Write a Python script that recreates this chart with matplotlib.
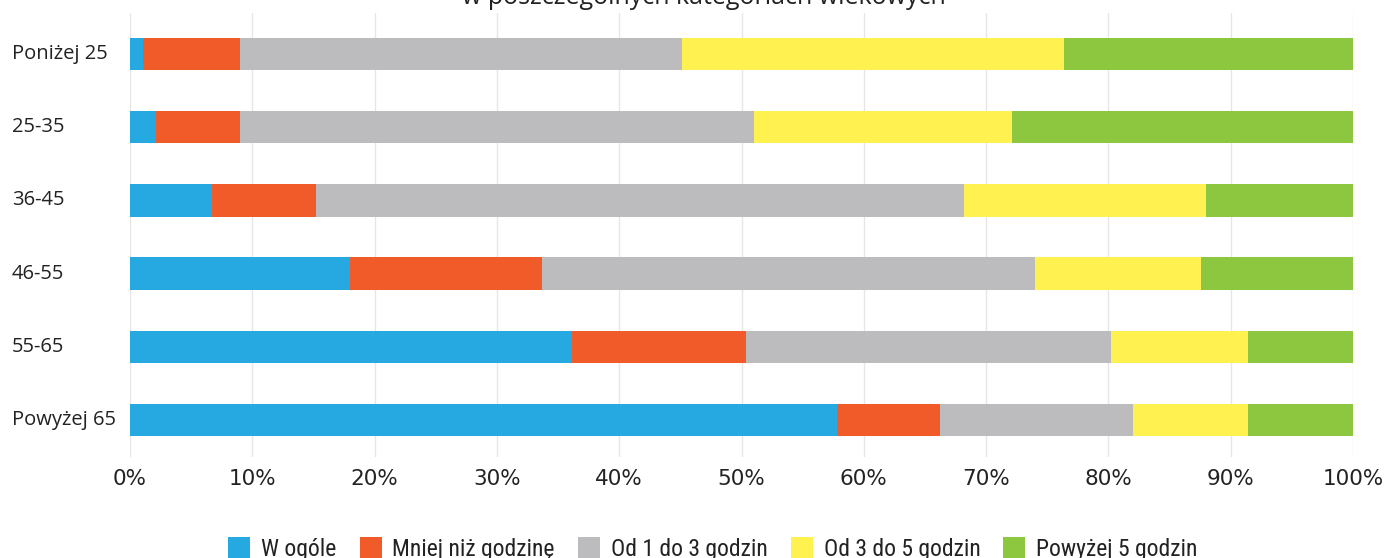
import matplotlib
matplotlib.use("Agg")
import matplotlib.pyplot as plt
import matplotlib.transforms as mtransforms
from matplotlib import font_manager
import numpy as np

categories = ["Poniżej 25", "25-35", "36-45", "46-55", "55-65", "Powyżej 65"]
series_names = ["W ogóle", "Mniej niż godzinę", "Od 1 do 3 godzin", "Od 3 do 5 godzin", "Powyżej 5 godzin"]
w_ogole = [1.1, 2.1, 6.7, 18.0, 36.1, 57.8]
mniej_niz_godzine = [7.9, 6.9, 8.5, 15.7, 14.3, 8.4]
od_1_do_3 = [36.1, 42.0, 53.0, 40.3, 29.8, 15.8]
od_3_do_5 = [31.3, 21.1, 19.8, 13.6, 11.2, 9.4]
powyzej_5 = [23.6, 27.9, 12.0, 12.4, 8.6, 8.6]
colors = ["#25a9e0", "#f15a29", "#bcbcbf", "#fff150", "#8dc63f"]
xtick_labels = ["0%", "10%", "20%", "30%", "40%", "50%", "60%", "70%", "80%", "90%", "100%"]
title = "w poszczególnych kategoriach wiekowych"

plt.rcParams['font.family'] = ['Open Sans', 'DejaVu Sans']

# pick a condensed face for the legend if one is installed
names = {f.name for f in font_manager.fontManager.ttflist}
cond_family = None
for cand in ["Liberation Sans Narrow", "Roboto Condensed", "Open Sans Condensed", "DejaVu Sans Condensed"]:
    if cand in names:
        cond_family = cand
        break
condensed_faces = [f for f in font_manager.fontManager.ttflist
                   if f.name == "DejaVu Sans" and str(f.stretch) in ("condensed", "semi-condensed", "500", "semi-expanded") and f.style == "normal" and f.weight in (400, "normal")]
if cond_family is not None:
    leg_prop = font_manager.FontProperties(family=cond_family, size=17)
    leg_size = 17
else:
    cpaths = [f.fname for f in font_manager.fontManager.ttflist if "Condensed" in f.fname and "DejaVuSans" in f.fname and "Bold" not in f.fname and "Oblique" not in f.fname]
    if cpaths:
        leg_prop = font_manager.FontProperties(fname=cpaths[0], size=16)
    else:
        leg_prop = font_manager.FontProperties(family="Open Sans", size=14.5)

fig = plt.figure(figsize=(13.94, 5.58), dpi=100)
ax = fig.add_axes([130/1394, 1 - 456.6/558, (1353-130)/1394, (456.6-13)/558])

data = [w_ogole, mniej_niz_godzine, od_1_do_3, od_3_do_5, powyzej_5]
y = np.arange(len(categories))
left = np.zeros(len(categories))
handles = []
for vals, name, c in zip(data, series_names, colors):
    vals = np.array(vals)
    h = ax.barh(y, vals, left=left, height=0.44, color=c, label=name, zorder=3)
    handles.append(h)
    left += vals

ax.set_ylim(len(categories) - 0.5, -0.5 - (17.4-13)/73.2)
ax.set_xlim(0, 100)
ax.set_xticks(np.arange(0, 101, 10))
ax.set_xticklabels(xtick_labels, fontsize=15.5, color="#222222", family=['DejaVu Sans'])
ax.set_yticks(y)
ax.set_yticklabels([])
ax.tick_params(axis="y", length=0)
ax.tick_params(axis="x", length=0, pad=9)
ax.xaxis.grid(True, color="#e6e6e6", linewidth=1, zorder=0)
ax.set_axisbelow(True)
for s in ax.spines.values():
    s.set_visible(False)

trans = mtransforms.blended_transform_factory(fig.transFigure, ax.transData)
for yi, cat in zip(y, categories):
    ax.text(12/1394, yi, cat, transform=trans, ha="left", va="center",
            fontsize=14.5, color="#222222", clip_on=False)

fig.text(704/1394, 1 - 4.5/558, title, ha="center", va="baseline", fontsize=18, color="#222222")

fs = leg_prop.get_size_in_points() * 100 / 72
fig.legend(handles=handles, labels=series_names, loc="center", bbox_to_anchor=(713/1394, 1 - 549/558),
           ncol=5, frameon=False, handlelength=22/fs, handleheight=22/fs,
           columnspacing=23/fs, handletextpad=11/fs, borderpad=0, borderaxespad=0,
           prop=leg_prop)
for t in fig.legends[0].get_texts():
    t.set_color("#222222")

fig.savefig("out.png", dpi=100)
